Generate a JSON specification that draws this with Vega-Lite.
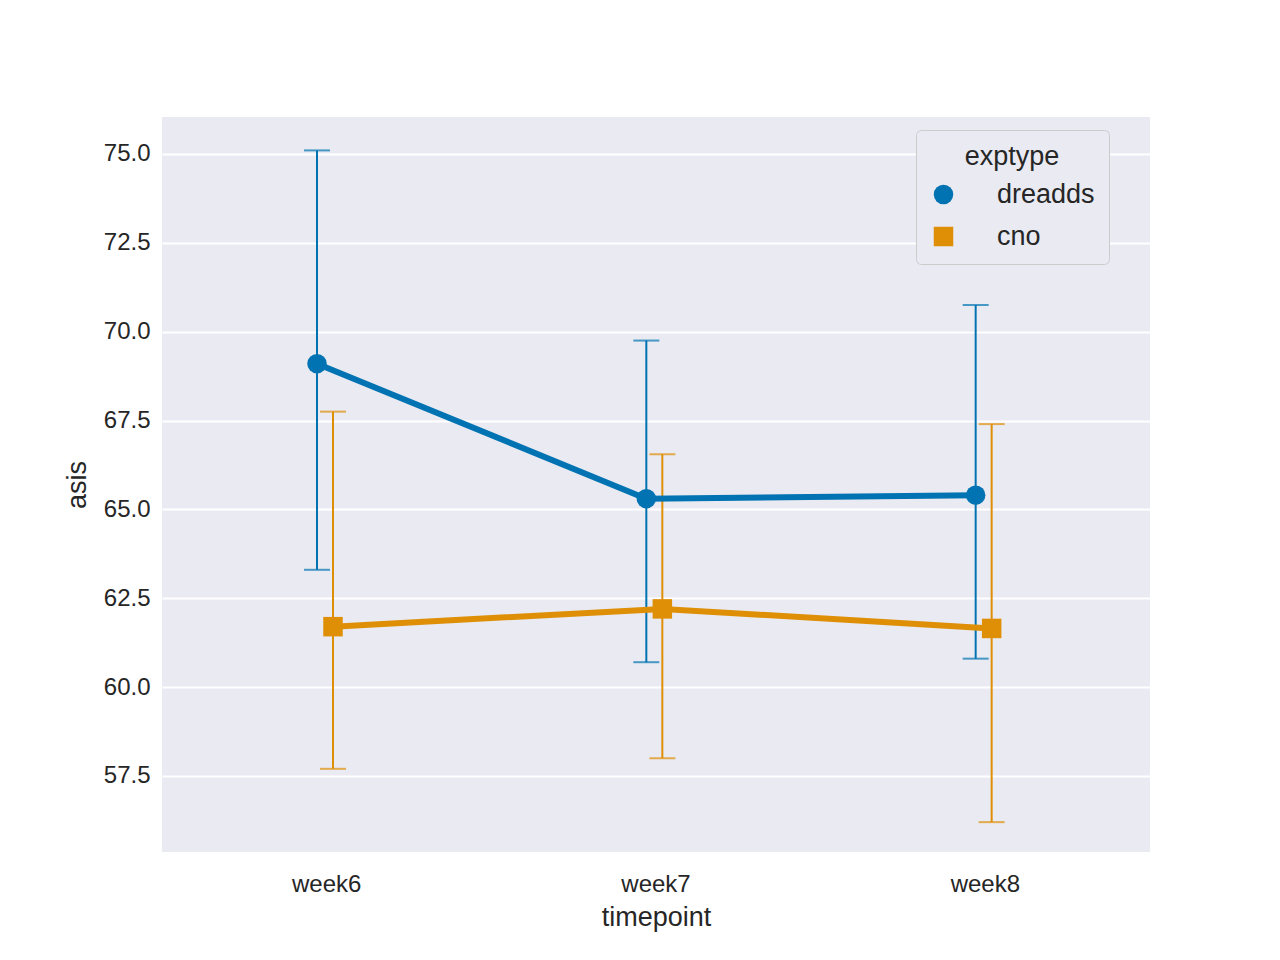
{
  "$schema": "https://vega.github.io/schema/vega-lite/v6.json",
  "width": 988,
  "height": 735,
  "autosize": "none",
  "padding": {"left": 162, "top": 117, "right": 130, "bottom": 108},
  "background": "white",
  "data": {
    "values": [
      {"timepoint": "week6", "exptype": "dreadds", "asis": 69.1, "lo": 63.3, "hi": 75.1},
      {"timepoint": "week7", "exptype": "dreadds", "asis": 65.3, "lo": 60.7, "hi": 69.75},
      {"timepoint": "week8", "exptype": "dreadds", "asis": 65.4, "lo": 60.8, "hi": 70.75},
      {"timepoint": "week6", "exptype": "cno", "asis": 61.7, "lo": 57.7, "hi": 67.75},
      {"timepoint": "week7", "exptype": "cno", "asis": 62.2, "lo": 58.0, "hi": 66.55},
      {"timepoint": "week8", "exptype": "cno", "asis": 61.65, "lo": 56.2, "hi": 67.4}
    ]
  },
  "encoding": {
    "x": {"field": "timepoint", "type": "nominal", "title": "timepoint",
      "scale": {"type": "band", "paddingInner": 0, "paddingOuter": 0},
      "axis": {"labelAngle": 0, "grid": false, "ticks": false, "domain": false, "labelPadding": 20, "titlePadding": 8}},
    "xOffset": {"field": "exptype", "type": "nominal",
      "scale": {"type": "point", "domain": ["dreadds", "cno"], "range": [155, 171], "padding": 0}},
    "color": {"field": "exptype", "type": "nominal",
      "scale": {"domain": ["dreadds", "cno"], "range": ["#0173b2", "#de8f05"]},
      "legend": {"title": "exptype", "orient": "none", "legendX": 754, "legendY": 13}}
  },
  "layer": [
    {
      "mark": {"type": "rule", "strokeWidth": 2},
      "encoding": {
        "y": {"field": "lo", "type": "quantitative"},
        "y2": {"field": "hi"}
      }
    },
    {
      "mark": {"type": "tick", "size": 26, "thickness": 2, "orient": "horizontal"},
      "encoding": {"y": {"field": "lo", "type": "quantitative"}}
    },
    {
      "mark": {"type": "tick", "size": 26, "thickness": 2, "orient": "horizontal"},
      "encoding": {"y": {"field": "hi", "type": "quantitative"}}
    },
    {
      "mark": {"type": "line", "strokeWidth": 6},
      "encoding": {"y": {"field": "asis", "type": "quantitative"}}
    },
    {
      "mark": {"type": "point", "filled": true, "opacity": 1, "size": 380},
      "encoding": {
        "y": {"field": "asis", "type": "quantitative", "title": "asis",
          "scale": {"domain": [55.36, 76.04], "nice": false, "zero": false},
          "axis": {"values": [57.5, 60, 62.5, 65, 67.5, 70, 72.5, 75], "format": ".1f", "ticks": false, "domain": false, "labelPadding": 12, "titlePadding": 12}},
        "shape": {"field": "exptype", "type": "nominal",
          "scale": {"domain": ["dreadds", "cno"], "range": ["circle", "square"]},
          "legend": {"title": "exptype", "orient": "none", "legendX": 754, "legendY": 13}}
      }
    }
  ],
  "config": {
    "view": {"fill": "#eaeaf2", "stroke": null},
    "font": "Liberation Sans",
    "axis": {"gridColor": "white", "gridWidth": 2, "labelFontSize": 24, "titleFontSize": 27,
      "labelColor": "#262626", "titleColor": "#262626", "titleFontWeight": "normal"},
    "legend": {"titleFontSize": 27, "labelFontSize": 27, "titleFontWeight": "normal",
      "titleColor": "#262626", "labelColor": "#262626", "symbolSize": 380, "symbolStrokeWidth": 0,
      "symbolOpacity": 1,
      "fillColor": "#eaeaf2", "strokeColor": "#cccccc", "cornerRadius": 5, "padding": 14,
      "rowPadding": 14, "labelOffset": 40, "titleAnchor": "middle", "titlePadding": 10}
  }
}
